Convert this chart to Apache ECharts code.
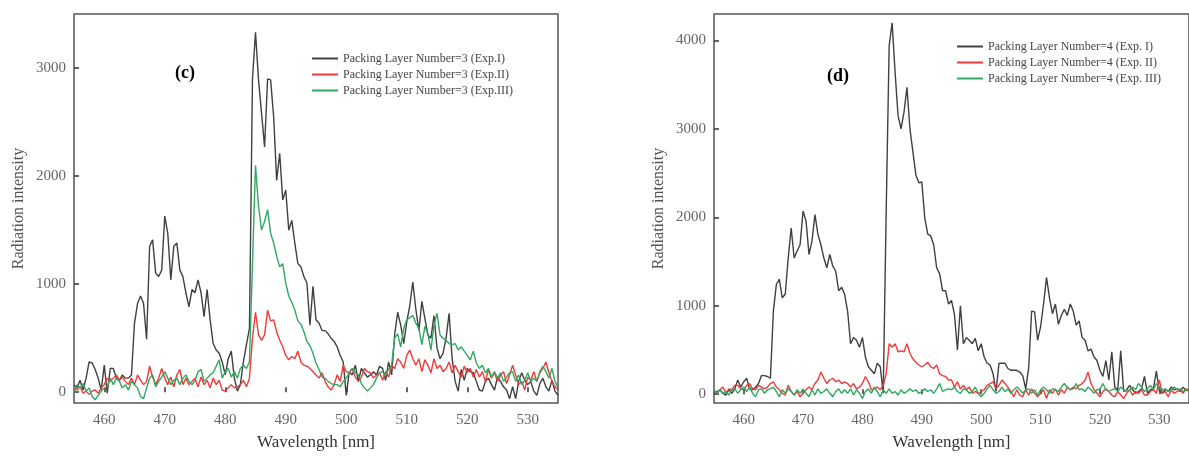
<!DOCTYPE html>
<html>
<head>
<meta charset="utf-8">
<style>
  html, body { margin: 0; padding: 0; background: #fff; }
  #chart { width: 1189px; height: 456px; }
</style>
<script src="https://cdn.jsdelivr.net/npm/echarts@6/dist/echarts.min.js"></script>
</head>
<body>
<div id="chart"></div>
<script>
// sampling grid, nm
const wavelength = [
  455,455.5,456,456.5,457,457.5,458,458.5,459,459.5,
  460,460.5,461,461.5,462,462.5,463,463.5,464,464.5,
  465,465.5,466,466.5,467,467.5,468,468.5,469,469.5,
  470,470.5,471,471.5,472,472.5,473,473.5,474,474.5,
  475,475.5,476,476.5,477,477.5,478,478.5,479,479.5,
  480,480.5,481,481.5,482,482.5,483,483.5,484,484.5,
  485,485.5,486,486.5,487,487.5,488,488.5,489,489.5,
  490,490.5,491,491.5,492,492.5,493,493.5,494,494.5,
  495,495.5,496,496.5,497,497.5,498,498.5,499,499.5,
  500,500.5,501,501.5,502,502.5,503,503.5,504,504.5,
  505,505.5,506,506.5,507,507.5,508,508.5,509,509.5,
  510,510.5,511,511.5,512,512.5,513,513.5,514,514.5,
  515,515.5,516,516.5,517,517.5,518,518.5,519,519.5,
  520,520.5,521,521.5,522,522.5,523,523.5,524,524.5,
  525,525.5,526,526.5,527,527.5,528,528.5,529,529.5,
  530,530.5,531,531.5,532,532.5,533,533.5,534,534.5,535
];
const xTicks = [460, 470, 480, 490, 500, 510, 520, 530];
const yTicksC = [0, 1000, 2000, 3000];
const yTicksD = [0, 1000, 2000, 3000, 4000];

const namesC = ['Packing Layer Number=3 (Exp.I)', 'Packing Layer Number=3 (Exp.II)', 'Packing Layer Number=3 (Exp.III)'];
const namesD = ['Packing Layer Number=4 (Exp. I)', 'Packing Layer Number=4 (Exp. II)', 'Packing Layer Number=4 (Exp. III)'];

// panel (c)
const c1 = [
  70,40,110,20,130,280,270,210,130,20,
  250,-10,220,220,130,110,160,130,130,160,
  640,820,890,820,490,1350,1410,1100,1070,1130,
  1630,1470,1040,1350,1380,1130,1070,920,790,950,
  920,1040,920,700,950,670,450,390,360,280,
  160,310,380,130,10,70,280,440,590,2900,
  3330,2890,2580,2270,2900,2890,2550,1960,2210,1780,
  1870,1500,1590,1380,1190,1160,1070,1010,620,980,
  670,640,570,570,540,500,470,420,340,280,
  -30,190,160,250,100,220,180,140,160,190,
  160,240,220,110,280,160,530,740,620,450,
  650,800,1020,770,570,840,680,530,500,710,
  410,310,360,500,730,310,100,10,210,110,
  220,190,180,100,20,10,100,130,70,20,
  140,100,50,20,-60,50,-60,100,180,110,
  70,100,10,-30,80,130,50,10,110,10,-30
];
const c2 = [
  40,20,50,-10,10,-20,10,20,-10,40,
  70,130,100,130,160,110,140,100,70,130,
  70,160,110,70,100,240,140,70,130,220,
  130,70,140,50,160,210,70,130,70,100,
  130,50,140,70,110,40,130,70,110,20,
  10,40,70,40,50,70,110,50,130,500,
  740,530,480,530,760,660,670,560,480,420,
  340,300,330,310,380,280,250,240,220,190,
  160,130,180,100,50,20,70,160,100,250,
  190,180,220,140,100,140,220,190,180,130,
  160,180,110,190,140,250,220,310,280,220,
  340,390,310,250,310,190,300,250,180,310,
  220,250,190,220,280,180,250,190,140,240,
  180,220,140,210,140,190,100,210,130,180,
  100,160,190,80,160,250,160,70,100,20,
  140,110,190,100,180,220,280,180,100,50,20
];
const c3 = [
  -10,70,40,80,10,40,-40,-70,-30,10,
  40,50,130,70,130,100,40,70,20,100,
  70,40,-40,-60,40,130,160,50,100,140,
  190,130,70,110,130,70,130,160,100,70,
  110,190,210,100,130,160,180,240,300,130,
  190,220,140,190,130,220,250,220,280,1190,
  2100,1720,1500,1580,1690,1470,1380,1260,1160,1190,
  1010,890,830,760,660,630,560,470,430,360,
  270,210,140,130,100,80,70,70,50,100,
  130,180,220,180,160,80,40,10,40,70,
  130,180,190,160,210,250,500,540,420,590,
  670,690,710,640,590,440,610,540,390,620,
  730,530,500,480,450,440,450,390,420,380,
  340,300,380,270,220,250,180,220,140,190,
  130,180,100,140,180,190,100,160,70,110,
  180,100,130,100,190,240,190,130,220,100,40
];

// panel (d)
const d1 = [
  10,30,50,10,-10,50,10,60,160,80,
  140,180,60,50,80,120,210,210,200,180,
  940,1240,1300,1090,1130,1540,1880,1540,1620,1690,
  2070,1960,1580,1730,2030,1810,1690,1540,1430,1580,
  1450,1390,1170,1210,1130,940,570,640,610,530,
  640,420,310,270,230,350,310,10,2070,3940,
  4200,3640,3150,3000,3190,3470,3000,2740,2480,2390,
  2400,1990,1810,1790,1690,1430,1360,1170,1170,1020,
  1060,900,500,1000,570,640,610,570,630,490,
  570,420,350,330,230,30,350,350,350,290,
  270,270,270,250,210,60,300,940,930,610,
  760,1020,1320,1090,910,1020,790,890,960,890,
  1020,940,780,830,640,610,490,510,420,380,
  270,200,380,160,480,80,50,490,30,50,
  100,50,10,30,60,200,10,50,60,260,
  40,10,50,30,80,50,60,30,80,40,50
];
const d2 = [
  30,10,50,80,10,60,50,100,100,60,
  50,100,120,60,50,100,80,60,80,120,
  140,80,50,10,-10,100,30,-10,30,-30,
  10,50,80,50,120,160,250,180,120,160,
  180,140,160,120,140,120,80,120,60,80,
  120,200,140,50,60,80,50,100,230,570,
  530,570,480,490,480,570,460,400,360,330,
  310,330,360,310,290,330,230,210,200,160,
  160,80,140,60,100,50,80,10,30,10,
  30,50,100,120,140,60,100,160,120,80,
  30,-30,50,-10,-30,50,-10,60,10,-30,
  10,50,-50,50,10,60,-10,50,10,80,
  50,80,60,100,120,160,250,120,50,10,
  -30,30,60,30,-10,-30,30,-10,-50,10,
  50,-10,30,10,50,-10,-10,30,50,10,
  160,10,30,-30,50,10,30,50,10,60,30
];
const d3 = [
  50,10,50,10,30,-10,50,60,10,50,
  80,30,80,10,-30,50,60,10,50,60,
  80,30,-30,50,10,60,30,-10,50,10,
  60,10,-30,50,-10,60,10,30,60,10,
  -30,30,60,10,50,10,60,-10,50,10,
  -50,30,60,10,80,30,-30,50,10,60,
  10,30,-10,50,10,30,60,30,50,10,
  30,60,30,50,10,60,120,30,50,60,
  50,80,30,10,60,50,10,30,80,10,
  -30,10,60,100,50,10,30,80,30,60,
  10,50,80,50,10,50,60,10,50,-10,
  50,80,50,10,60,50,30,80,120,80,
  50,60,120,50,60,30,80,50,10,50,
  60,120,50,30,50,60,30,80,50,30,
  50,80,50,120,80,30,60,100,50,120,
  80,50,60,30,50,80,50,60,30,50,60
];

const serif = "'Liberation Serif', 'Times New Roman', serif";
const lineColors = ['#404040', '#f03a3a', '#2fa862'];

function pairs(vals) {
  return wavelength.map((w, i) => [w, vals[i]]);
}

function makeX(gi) {
  return {
    gridIndex: gi, type: 'value', min: 455, max: 535,
    name: 'Wavelength [nm]', nameLocation: 'middle', nameGap: 31,
    nameTextStyle: { fontFamily: serif, fontSize: 17, color: '#333' },
    axisLine: { show: false },
    axisTick: { inside: true, length: 5, customValues: xTicks, lineStyle: { color: '#333', width: 1.5 } },
    axisLabel: { customValues: xTicks, margin: 10, fontFamily: serif, fontSize: 15, color: '#666' },
    splitLine: { show: false }
  };
}

function makeY(gi, max, ticks) {
  return {
    gridIndex: gi, type: 'value', min: -100, max: max,
    name: 'Radiation intensity', nameLocation: 'middle', nameGap: 47,
    nameTextStyle: { fontFamily: serif, fontSize: 16, color: '#555' },
    axisLine: { show: false },
    axisTick: { inside: true, length: 5, customValues: ticks, lineStyle: { color: '#333', width: 1.5 } },
    axisLabel: {
      customValues: ticks, margin: 8, fontFamily: serif, fontSize: 15, color: '#666',
      formatter: v => String(v)
    },
    splitLine: { show: false }
  };
}

function makeLegend(names, left, top) {
  return {
    data: names, orient: 'vertical', left: left, top: top, padding: 0,
    icon: 'rect', itemWidth: 26, itemHeight: 2, itemGap: 3,
    textStyle: { fontFamily: serif, fontSize: 12, lineHeight: 13, color: '#444' }
  };
}

function makeSeries(names, data, gi) {
  return data.map((vals, k) => ({
    name: names[k], type: 'line', xAxisIndex: gi, yAxisIndex: gi,
    data: pairs(vals), showSymbol: false, symbol: 'none',
    lineStyle: { width: 1.4, color: lineColors[k] },
    itemStyle: { color: lineColors[k] }
  }));
}

const chart = echarts.init(document.getElementById('chart'));
chart.setOption({
  animation: false,
  backgroundColor: '#fff',
  grid: [
    { left: 74, top: 14, width: 484, height: 390, show: true, borderColor: '#555', borderWidth: 1.5 },
    { left: 714, top: 14, width: 488, height: 392, show: true, borderColor: '#555', borderWidth: 1.5 }
  ],
  xAxis: [makeX(0), makeX(1)],
  yAxis: [makeY(0, 3500, yTicksC), makeY(1, 4300, yTicksD)],
  legend: [makeLegend(namesC, 312, 52), makeLegend(namesD, 957, 40)],
  graphic: [
    { type: 'text', x: 185, y: 73, style: { text: '(c)', align: 'center', verticalAlign: 'middle', fontFamily: serif, fontSize: 18, fontWeight: 'bold', fill: '#000' } },
    { type: 'text', x: 838, y: 76, style: { text: '(d)', align: 'center', verticalAlign: 'middle', fontFamily: serif, fontSize: 18, fontWeight: 'bold', fill: '#000' } }
  ],
  series: makeSeries(namesC, [c1, c2, c3], 0).concat(makeSeries(namesD, [d1, d2, d3], 1))
});
</script>
</body>
</html>
